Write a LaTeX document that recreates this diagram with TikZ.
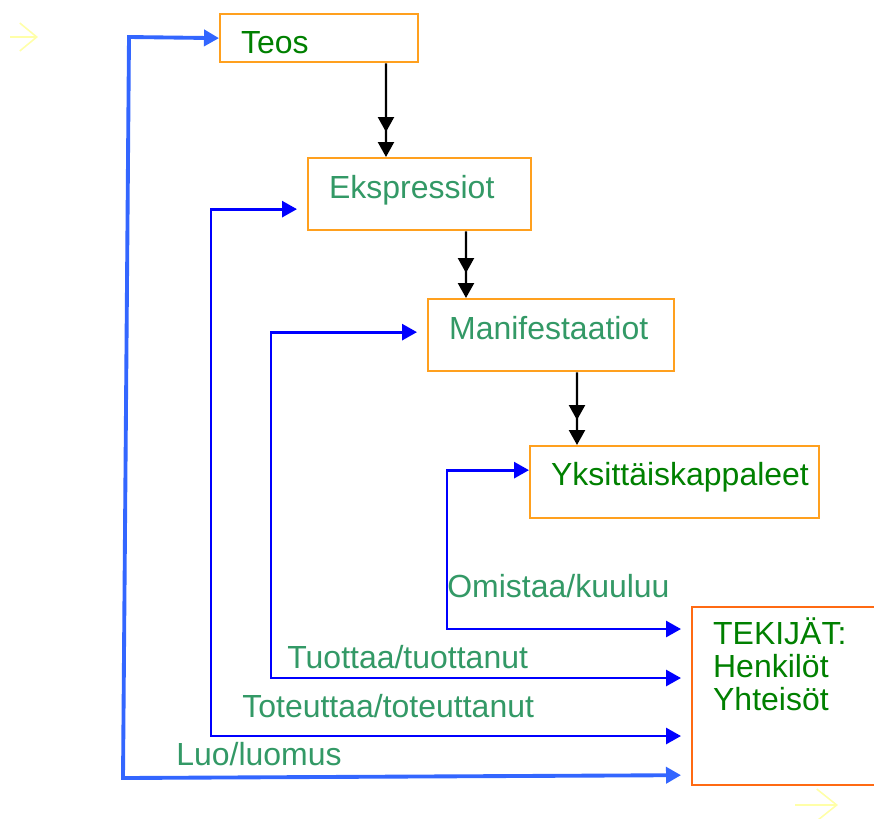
\documentclass[tikz,border=0pt]{standalone}
\usepackage{fontspec}
\setmainfont{Liberation Sans}
\usepackage{xcolor}
\usetikzlibrary{positioning,arrows.meta}
\definecolor{boxorange}{HTML}{FFA01E}
\definecolor{tekorange}{HTML}{FF6A13}
\definecolor{titlegreen}{HTML}{008000}
\definecolor{relgreen}{HTML}{339966}
\definecolor{relblue}{HTML}{0000FF}
\definecolor{luoblue}{HTML}{3366FF}
\definecolor{hintyellow}{HTML}{FFFFA8}

\begin{document}
\begin{tikzpicture}[
    x=0.02cm,y=-0.02cm,
    every node/.style={font=\fontsize{18.2}{19}\selectfont},
    entity/.style={draw=boxorange,line width=1.3pt,anchor=north west,align=left,inner xsep=0.42cm,inner ysep=0pt},
    flow/.style={draw=black,line width=1.3pt,-{Triangle[length=0.3cm,width=0.32cm,sep=0.2cm]Triangle[length=0.3cm,width=0.32cm]}},
    rel/.style={draw=relblue,line width=1.6pt,{Triangle[length=0.3cm,width=0.32cm]}-{Triangle[length=0.3cm,width=0.32cm]}},
    luo/.style={rel,draw=luoblue,line width=2.2pt},
    relname/.style={anchor=base west,inner sep=0pt,text=relgreen},
    hint/.style={draw=hintyellow,line width=0.9pt}
  ]
  \useasboundingbox (0,0) rectangle (874,818);

  % FRBR entities
  \node[entity,text width=3.12cm,text height=0.78cm,text depth=0.18cm,text=titlegreen] (teos)  at (219,13)  {Teos};
  \node[entity,text width=3.62cm,text height=0.8cm,text depth=0.64cm,text=relgreen]    (ekspr) at (307,157) {Ekspressiot};
  \node[entity,text width=4.08cm,text height=0.8cm,text depth=0.64cm,text=relgreen]    (manif) at (427,298) {Manifestaatiot};
  \node[entity,text width=4.94cm,text height=0.78cm,text depth=0.66cm,text=titlegreen] (kapp)  at (529,445) {Yksittäiskappaleet};
  \node[entity,draw=tekorange,text width=2.9cm,text height=0.74cm,text depth=2.82cm,text=titlegreen] (tekijat) at (691,606) {TEKIJÄT:\\Henkilöt\\Yhteisöt};

  \draw[flow] ([xshift=3.34cm]teos.south west)  -- ([xshift=1.58cm]ekspr.north west);
  \draw[flow] ([xshift=3.18cm]ekspr.south west) -- ([xshift=0.78cm]manif.north west);
  \draw[flow] ([xshift=3.0cm]manif.south west)  -- ([xshift=0.96cm]kapp.north west);

  % relations to the creators
  \coordinate (omcol)  at (447,629);
  \coordinate (tucol)  at (271,678);
  \coordinate (tocol)  at (211,736);
  \coordinate (luotop) at (129,37);
  \coordinate (luobot) at (123,778);

  \draw[rel,shorten >=0.2cm] ([yshift=0.24cm]kapp.west) -| (omcol) -- (omcol -| tekijat.west);
  \draw[rel,shorten <=0.2cm,shorten >=0.2cm] ([yshift=0.06cm]manif.west) -| (tucol) -- (tucol -| tekijat.west);
  \draw[rel,shorten <=0.2cm,shorten >=0.2cm] ([yshift=-0.3cm]ekspr.west) -| (tocol) -- (tocol -| tekijat.west);
  \draw[luo,shorten >=0.2cm] (teos.west) -- (luotop) -- (luobot) -- ([yshift=-1.58cm]tekijat.west);

  \node[relname] (omlab)  at (447,597) {Omistaa/kuuluu};
  \node[relname] (tulab)  at (287,668) {Tuottaa/tuottanut};
  \node[relname] (tolab)  at (242,717) {Toteuttaa/toteuttanut};
  \node[relname] (luolab) at (176,765) {Luo/luomus};

  % faint slide arrows
  \draw[hint,-{Straight Barb[length=0.34cm,width=0.56cm]}] (10,37) -- (38,37);
  \draw[hint,-{Straight Barb[length=0.4cm,width=0.64cm]}] (795,805) -- (838,805);
\end{tikzpicture}
\end{document}
